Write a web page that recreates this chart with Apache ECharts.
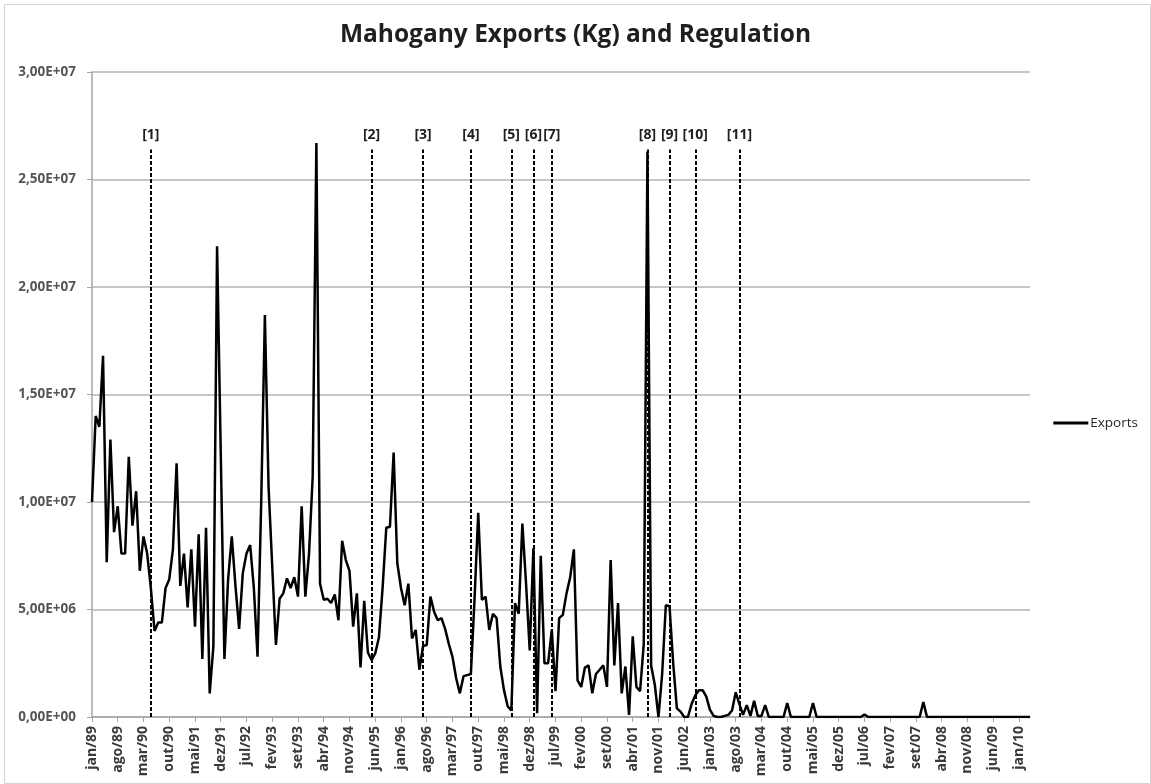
<!DOCTYPE html>
<html>
<head>
<meta charset="utf-8">
<script src="https://cdn.jsdelivr.net/npm/echarts@6/dist/echarts.min.js"></script>
<style>
html,body{margin:0;padding:0;background:#fff;}
#chart{width:1151px;height:784px;}
</style>
</head>
<body>
<div id="chart"></div>
<script>
// Month names used for the category labels (jan/89 ... abr/10)
const monthNames = ['jan','fev','mar','abr','mai','jun','jul','ago','set','out','nov','dez'];
const startYear = 1989;
const monthCount = 256;

// Monthly exports in millions of kg
const exportsMillions = [
  10.0, 14.0, 13.5, 16.8, 7.2, 12.9, 8.6, 9.8, 7.6, 7.6,
  12.1, 8.9, 10.5, 6.8, 8.4, 7.6, 6.0, 4.0, 4.4, 4.4,
  6.0, 6.4, 7.8, 11.8, 6.1, 7.6, 5.1, 7.8, 4.2, 8.5,
  2.7, 8.8, 1.1, 3.3, 21.9, 12.3, 2.7, 6.4, 8.4, 6.1,
  4.1, 6.7, 7.6, 8.0, 6.0, 2.8, 10.0, 18.7, 10.7, 7.0,
  3.35, 5.5, 5.75, 6.45, 6.0, 6.5, 5.6, 9.8, 5.6, 7.6,
  11.2, 26.7, 6.2, 5.45, 5.5, 5.3, 5.7, 4.5, 8.2, 7.3,
  6.8, 4.2, 5.75, 2.3, 5.4, 3.0, 2.65, 2.96, 3.7, 6.0,
  8.8, 8.85, 12.3, 7.15, 6.0, 5.2, 6.2, 3.65, 4.05, 2.2,
  3.3, 3.35, 5.6, 4.9, 4.5, 4.6, 4.1, 3.4, 2.8, 1.8,
  1.1, 1.9, 1.95, 2.0, 5.5, 9.5, 5.45, 5.6, 4.05, 4.8,
  4.6, 2.35, 1.25, 0.5, 0.3, 5.3, 4.8, 9.0, 6.2, 3.1,
  7.85, 0.17, 7.5, 2.5, 2.5, 4.05, 1.2, 4.6, 4.75, 5.75,
  6.5, 7.8, 1.7, 1.4, 2.3, 2.4, 1.1, 2.0, 2.2, 2.4,
  1.4, 7.3, 2.4, 5.3, 1.1, 2.35, 0.1, 3.75, 1.4, 1.2,
  3.4, 26.3, 2.4, 1.5, 0.0, 2.0, 5.2, 5.15, 2.5, 0.4,
  0.25, 0.0, 0.0, 0.6, 1.0, 1.25, 1.25, 0.95, 0.33, 0.05,
  0.0, 0.0, 0.05, 0.1, 0.3, 1.15, 0.6, 0.1, 0.55, 0.05,
  0.75, 0.05, 0.05, 0.55, 0.0, 0.0, 0.0, 0.0, 0.0, 0.65,
  0.0, 0.0, 0.0, 0.0, 0.0, 0.0, 0.65, 0.0, 0.0, 0.0,
  0.0, 0.0, 0.0, 0.0, 0.0, 0.0, 0.0, 0.0, 0.0, 0.0,
  0.12, 0.0, 0.0, 0.0, 0.0, 0.0, 0.0, 0.0, 0.0, 0.0,
  0.0, 0.0, 0.0, 0.0, 0.0, 0.0, 0.7, 0.0, 0.0, 0.0,
  0.0, 0.0, 0.0, 0.0, 0.0, 0.0, 0.0, 0.0, 0.0, 0.0,
  0.0, 0.0, 0.0, 0.0, 0.0, 0.0, 0.0, 0.0, 0.0, 0.0,
  0.0, 0.0, 0.0, 0.0, 0.0, 0.0
];

// Regulation markers: month index and label
const markerIdx = [16, 76, 90, 103, 114, 120, 125, 151, 157, 164, 176];
const markerLabels = ['[1]','[2]','[3]','[4]','[5]','[6]','[7]','[8]','[9]','[10]','[11]'];
const markerTop = 2.64e7;

const categories = [];
for (let i = 0; i < monthCount; i++) {
  const y = startYear + Math.floor(i / 12);
  categories.push(monthNames[i % 12] + '/' + String(y % 100).padStart(2, '0'));
}
const exportsKg = exportsMillions.map(v => v * 1e6);

function sci(v) {
  if (v === 0) return '0,00E+00';
  const e = Math.floor(Math.log10(v) + 1e-9);
  const m = v / Math.pow(10, e);
  return m.toFixed(2).replace('.', ',') + 'E+' + String(e).padStart(2, '0');
}

const markData = markerIdx.map((idx, k) => [
  { xAxis: idx, yAxis: 0, name: markerLabels[k] },
  { xAxis: idx, yAxis: markerTop }
]);

const FONT = 'Open Sans';
const chart = echarts.init(document.getElementById('chart'), null, { renderer: 'canvas' });
chart.setOption({
  animation: false,
  backgroundColor: '#fff',
  graphic: [{
    type: 'rect', left: 2, top: 2, z: -10, silent: true,
    shape: { width: 1146, height: 779 },
    style: { fill: 'none', stroke: '#d4d4d4', lineWidth: 1 }
  }],
  title: {
    text: 'Mahogany Exports (Kg) and Regulation',
    left: 'center',
    top: 18,
    padding: [5, 5, 5, 24],
    textStyle: { fontFamily: FONT, fontSize: 24.5, fontWeight: 'bold', color: '#1f1f1f' }
  },
  legend: {
    right: 8,
    top: 411,
    orient: 'vertical',
    itemWidth: 35,
    itemHeight: 3,
    itemGap: 4,
    textStyle: { fontFamily: FONT, fontSize: 13.5, color: '#262626', padding: [0, 0, 0, -3] },
    data: [{ name: 'Exports', icon: 'rect' }]
  },
  grid: { left: 92, top: 72, right: 121, bottom: 67, containLabel: false },
  xAxis: {
    type: 'category',
    data: categories,
    boundaryGap: false,
    axisLine: { lineStyle: { color: '#a6a6a6', width: 1.5 } },
    axisTick: { show: true, interval: 6, length: 5, lineStyle: { color: '#a6a6a6' } },
    axisLabel: {
      interval: 6, rotate: 90, margin: 9,
      fontFamily: FONT, fontSize: 14, fontWeight: 'bold', color: '#3a3a3a'
    },
    splitLine: { show: false }
  },
  yAxis: {
    type: 'value',
    min: 0, max: 3e7, interval: 5e6,
    axisLine: { show: true, lineStyle: { color: '#a6a6a6', width: 1.5 } },
    axisTick: { show: true, length: 5, inside: false, lineStyle: { color: '#a6a6a6' } },
    axisLabel: {
      formatter: sci, margin: 16,
      fontFamily: FONT, fontSize: 13.5, fontWeight: 'bold', color: '#555'
    },
    splitLine: { lineStyle: { color: '#b3b3b3', width: 1.5 } }
  },
  series: [{
    name: 'Exports',
    type: 'line',
    data: exportsKg,
    symbol: 'none',
    lineStyle: { color: '#000', width: 2.5 },
    itemStyle: { color: '#000' },
    z: 3,
    markLine: {
      silent: true,
      symbol: ['none', 'none'],
      lineStyle: { color: '#000', type: [4, 2], width: 2 },
      label: {
        show: true, position: 'end', formatter: '{b}',
        fontFamily: FONT, fontSize: 14, fontWeight: 'bold', color: '#1f1f1f',
        distance: 7
      },
      data: markData
    }
  }]
});
</script>
</body>
</html>
